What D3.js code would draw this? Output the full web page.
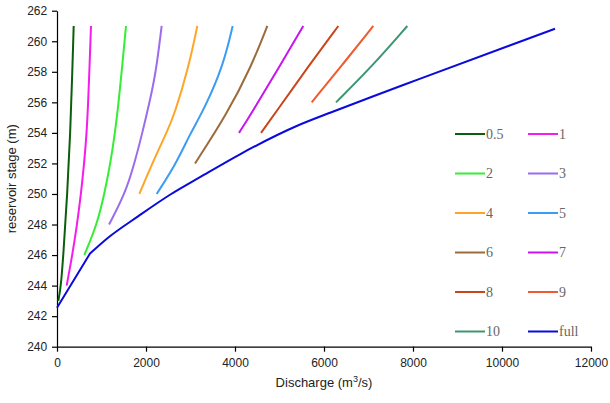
<!DOCTYPE html>
<html>
<head>
<meta charset="utf-8">
<script src="https://cdn.jsdelivr.net/npm/d3@7"></script>
<style>
  body { margin: 0; background: #fff; }
  svg text { font-family: "Liberation Sans", Arial, sans-serif; }
</style>
</head>
<body>
<svg id="chart" width="610" height="403"></svg>
<script>
// series: [discharge, stage] pairs
const s05 = [[30,243],[90,244],[142,246],[231,250],[299,254],[344,258],[375,261]];
const s1 = [[217,244],[344,246],[450,248],[539,250],[610,252],[667,254],[700,256],[727,258],[764,261]];
const s2 = [[614,246],[899,248],[1064,250],[1200,252],[1303,254],[1385,256],[1453,258],[1551,261]];
const s3 = [[1169,248],[1528,250],[1740,252],[1918,254],[2080,256],[2225,258],[2352,261]];
const s4 = [[1850,250],[2140,252],[2460,254],[2640,255.2],[2966,258.4],[3153,261]];
const s5 = [[2240,250],[2680,252],[3000,254],[3300,255.5],[3738,258.4],[3948,261]];
const s6 = [[3101,252],[3813,255.2],[4375,258.4],[4726,261]];
const s7 = [[4090,254],[4353,255.2],[5011,258.4],[5535,261]];
const s8 = [[4584,254],[4880,255.2],[5660,258.4],[6322,261]];
const s9 = [[5724,256],[6397,258.4],[7108,261]];
const s10 = [[6270,256],[7094,258.4],[7872,261]];
const sFull = [[0,242.55],[742,246.1],[1154,247.15],[1828,248.55],[2539,249.95],[3213,251.1],[4112,252.6],[5386,254.45],[6210,255.4],[7108,256.4],[8120,257.5],[11191,260.82]];

const names = ["0.5","1","2","3","4","5","6","7","8","9","10","full"];
const colors = ["#0b5e0b","#f51cf0","#33ee33","#9b6cee","#ffa526","#3a9cf5","#9c6b3c","#c814f2","#c9461a","#ef5a2e","#3a9670","#0a0adc"];
const seriesData = [s05,s1,s2,s3,s4,s5,s6,s7,s8,s9,s10,sFull];

const xTicks = [0,2000,4000,6000,8000,10000,12000];
const yTicks = [240,242,244,246,248,250,252,254,256,258,260,262];

const svg = d3.select("#chart");
const m = {left: 57, right: 19, top: 10.7, bottom: 56.3};
const W = 610, H = 403;

const x = d3.scaleLinear().domain([0,12000]).range([m.left, W - m.right]);
const y = d3.scaleLinear().domain([240,262]).range([H - m.bottom, m.top]);

const xAxis = svg.append("g")
    .attr("transform", `translate(0,${y(240)})`)
    .call(d3.axisBottom(x).tickValues(xTicks).tickSize(5).tickSizeOuter(0).tickFormat(d3.format("d")));
const yAxis = svg.append("g")
    .attr("transform", `translate(${x(0)},0)`)
    .call(d3.axisLeft(y).tickValues(yTicks).tickSize(5).tickSizeOuter(0).tickFormat(d3.format("d")));

[xAxis, yAxis].forEach(a => {
    a.selectAll("path,line").attr("stroke", "#000").attr("stroke-width", 1.2);
    a.selectAll("text").attr("fill", "#222").style("font-size", "12px")
        .style("font-family", "Liberation Sans, Arial, sans-serif");
});
xAxis.selectAll("text").attr("dy", "1.05em");
yAxis.selectAll("text").attr("dx", "-0.15em");

// the short curves are smooth
const smooth = d3.line()
    .x(d => x(d[0]))
    .y(d => y(d[1]))
    .curve(d3.curveBasis);
// full curve: straight first leg, then a smooth bend from ~750 on
const mono = d3.line()
    .x(d => x(d[0]))
    .y(d => y(d[1]))
    .curve(d3.curveMonotoneX);
function fullPath(d) {
    const rest = mono(d.slice(1));
    return `M${x(d[0][0])},${y(d[0][1])}L` + rest.slice(1);
}

svg.append("g").selectAll("path")
    .data(seriesData)
    .join("path")
    .attr("d", (d,i) => i === seriesData.length - 1 ? fullPath(d) : smooth(d))
    .attr("fill", "none")
    .attr("stroke", (d,i) => colors[i])
    .attr("stroke-width", 2)
    .attr("stroke-linejoin", "round");

// axis titles
svg.append("text")
    .attr("x", x(6000)).attr("y", 387)
    .attr("text-anchor", "middle")
    .style("font-size", "13px").attr("fill", "#222")
    .html('Discharge (m<tspan dy="-5" font-size="9px">3</tspan><tspan dy="5">/s)</tspan>');

svg.append("text")
    .attr("transform", `translate(16,${y(251)}) rotate(-90)`)
    .attr("text-anchor", "middle")
    .style("font-size", "13px").attr("fill", "#222")
    .text("reservoir stage (m)");

// legend, two columns
const legend = svg.append("g");
names.forEach((n, i) => {
    const col = i % 2, row = Math.floor(i / 2);
    const lx = 455 + col * 73, ly = 134 + row * 39.5;
    legend.append("line")
        .attr("x1", lx).attr("x2", lx + 30)
        .attr("y1", ly).attr("y2", ly)
        .attr("stroke", colors[i]).attr("stroke-width", 2);
    legend.append("text")
        .attr("x", lx + 31).attr("y", ly + 4.5)
        .style("font-family", "'Liberation Serif', 'DejaVu Serif', serif")
        .style("font-size", "14px")
        .attr("fill", "#666")
        .text(n);
});
</script>
</body>
</html>
